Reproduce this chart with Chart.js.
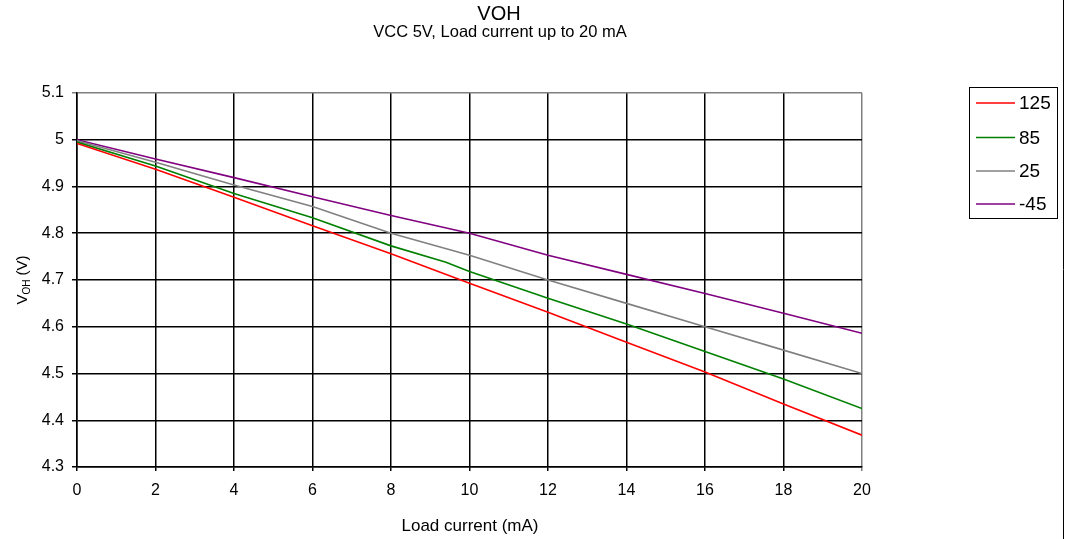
<!DOCTYPE html>
<html><head><meta charset="utf-8">
<script src="https://cdn.jsdelivr.net/npm/chart.js@4/dist/chart.umd.min.js"></script>
<style>html,body{margin:0;padding:0;background:#fff;}#wrap{width:1070px;height:539px;position:relative;}</style>
</head><body><div id="wrap"><canvas id="c" width="1070" height="539"></canvas></div>
<script>
const titleText = "VOH";
const subtitleText = "VCC 5V, Load current up to 20 mA";
const xAxisTitle = "Load current (mA)";
const current = [0, 2, 4, 6, 8, 10, 12, 14, 16, 18, 20];
const current85 = [0, 2, 4, 6, 8, 9.4, 10, 12, 14, 16, 18, 20];
const seriesNames = ["125", "85", "25", "-45"];
const v125 = [4.992, 4.937, 4.877, 4.816, 4.756, 4.693, 4.631, 4.567, 4.503, 4.435, 4.368];
const v85  = [4.995, 4.944, 4.885, 4.833, 4.773, 4.738, 4.718, 4.661, 4.606, 4.547, 4.488, 4.425];
const v25  = [4.998, 4.952, 4.903, 4.857, 4.800, 4.753, 4.700, 4.650, 4.600, 4.550, 4.500];
const vm45 = [5.000, 4.959, 4.919, 4.878, 4.838, 4.800, 4.753, 4.712, 4.671, 4.629, 4.586];
const colors = ["#ff0000", "#008000", "#808080", "#800080"];

const FONT = "'Liberation Sans', Arial, sans-serif";
const pts = (xs, ys) => xs.map((x, i) => ({x: x, y: ys[i]}));

const deco = {
  id: 'deco',
  afterDraw(chart) {
    const ctx = chart.ctx;
    ctx.save();
    ctx.fillStyle = '#000';
    ctx.textAlign = 'center';
    ctx.textBaseline = 'alphabetic';
    ctx.font = '20px ' + FONT;
    ctx.fillText(titleText, 499, 19.5);
    ctx.font = '16.5px ' + FONT;
    ctx.fillText(subtitleText, 500, 37);
    ctx.font = '17px ' + FONT;
    ctx.fillText(xAxisTitle, 470, 531);
    // y axis title with subscript
    ctx.save();
    ctx.translate(27, 280);
    ctx.rotate(-Math.PI / 2);
    ctx.textAlign = 'left';
    ctx.textBaseline = 'alphabetic';
    const fM = '15px ' + FONT, fS = '10px ' + FONT;
    ctx.font = fM; const wV = ctx.measureText('V').width;
    ctx.font = fS; const wOH = ctx.measureText('OH').width;
    ctx.font = fM; const wR = ctx.measureText(' (V)').width;
    let x0 = -(wV + wOH + wR) / 2;
    ctx.font = fM; ctx.fillText('V', x0, 0);
    ctx.font = fS; ctx.fillText('OH', x0 + wV, 2.5);
    ctx.font = fM; ctx.fillText(' (V)', x0 + wV + wOH, 0);
    ctx.restore();
    // legend
    ctx.strokeStyle = '#000';
    ctx.lineWidth = 1;
    ctx.strokeRect(969.5, 87.5, 88, 131);
    ctx.font = '19px ' + FONT;
    ctx.textAlign = 'left';
    ctx.textBaseline = 'middle';
    const rowY = [103, 137.5, 171, 204];
    chart.data.datasets.forEach((ds, i) => {
      ctx.strokeStyle = ds.borderColor;
      ctx.lineWidth = 1.5;
      ctx.beginPath();
      ctx.moveTo(976, rowY[i]);
      ctx.lineTo(1015, rowY[i]);
      ctx.stroke();
      ctx.fillStyle = '#000';
      ctx.fillText(ds.label, 1019, rowY[i] + 1);
    });
    // right border line
    ctx.strokeStyle = '#000';
    ctx.lineWidth = 1;
    ctx.beginPath();
    ctx.moveTo(1063.5, 0);
    ctx.lineTo(1063.5, 539);
    ctx.stroke();
    ctx.restore();
  }
};

new Chart(document.getElementById('c'), {
  type: 'line',
  data: {
    datasets: [
      {label: seriesNames[0], data: pts(current, v125), borderColor: colors[0]},
      {label: seriesNames[1], data: pts(current85, v85), borderColor: colors[1]},
      {label: seriesNames[2], data: pts(current, v25), borderColor: colors[2]},
      {label: seriesNames[3], data: pts(current, vm45), borderColor: colors[3]}
    ].map(d => Object.assign(d, {borderWidth: 1.6, pointRadius: 0, tension: 0, fill: false}))
  },
  options: {
    responsive: false,
    animation: false,
    events: [],
    layout: {padding: {top: 93, right: 208, left: 0, bottom: 0}},
    plugins: {legend: {display: false}, title: {display: false}, tooltip: {enabled: false}},
    scales: {
      x: {
        type: 'linear', min: 0, max: 20,
        afterFit(s) { s.height = 72; },
        ticks: {stepSize: 2, color: '#000', font: {family: FONT, size: 16}, padding: 10, maxRotation: 0},
        grid: {
          color: ctx => (ctx.tick && ctx.tick.value === 20) ? '#808080' : '#000',
          lineWidth: 1.5, tickLength: 4, drawTicks: true
        },
        border: {color: '#000', width: 1.5}
      },
      y: {
        type: 'linear', min: 4.3, max: 5.1,
        afterFit(s) { s.width = 77; },
        ticks: {stepSize: 0.1, color: '#000', font: {family: FONT, size: 16}, padding: 8,
          callback: v => String(Math.round(v * 10) / 10)},
        grid: {
          color: ctx => (ctx.tick && Math.abs(ctx.tick.value - 5.1) < 1e-6) ? '#808080' : '#000',
          lineWidth: 1.5, tickLength: 5
        },
        border: {color: '#000', width: 1.5}
      }
    }
  },
  plugins: [deco]
});
</script>
</body></html>
